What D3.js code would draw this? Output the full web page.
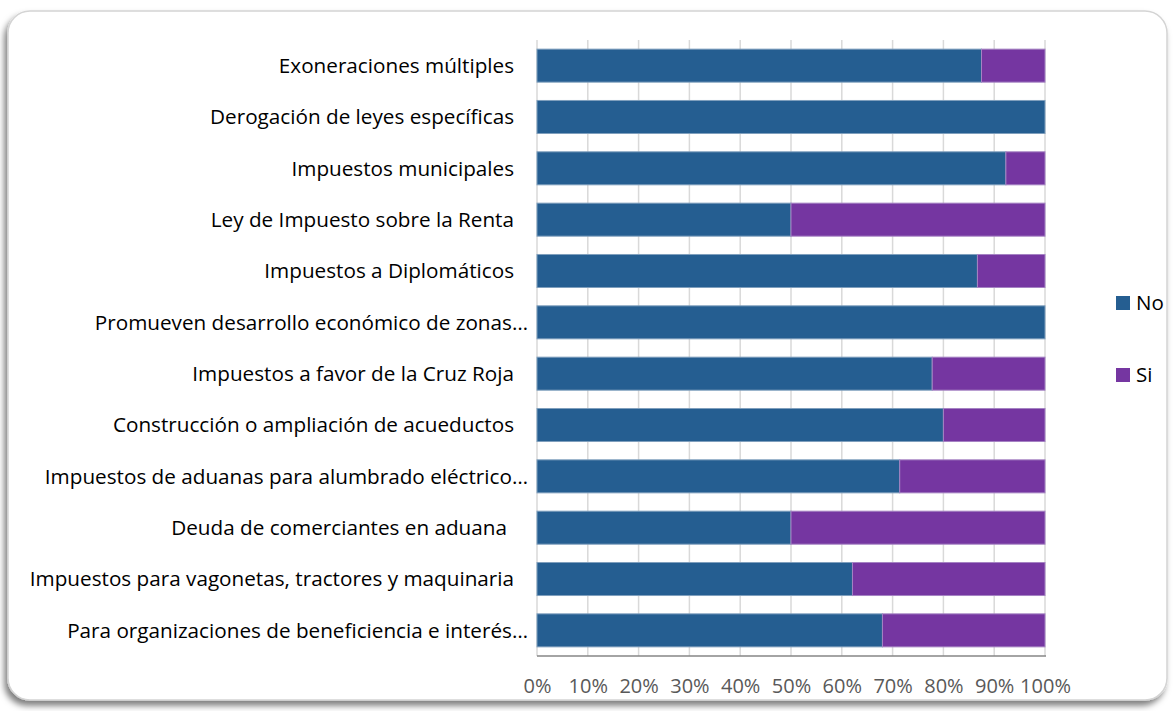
<!DOCTYPE html>
<html>
<head>
<meta charset="utf-8">
<script src="https://cdn.jsdelivr.net/npm/d3@7"></script>
<style>
  body { margin: 0; background: #fff; }
  text { font-family: "Open Sans", "Noto Sans", sans-serif; }
</style>
</head>
<body>
<svg width="1176" height="711"></svg>
<script>
// categories, top to bottom (trailing spaces as in the source labels)
var categories = [
  "Exoneraciones múltiples  ",
  "Derogación de leyes específicas  ",
  "Impuestos municipales  ",
  "Ley de Impuesto sobre la Renta  ",
  "Impuestos a Diplomáticos  ",
  "Promueven desarrollo económico de zonas…",
  "Impuestos a favor de la Cruz Roja  ",
  "Construcción o ampliación de acueductos  ",
  "Impuestos de aduanas para alumbrado eléctrico…",
  "Deuda de comerciantes en aduana   ",
  "Impuestos para vagonetas, tractores y maquinaria  ",
  "Para organizaciones de beneficiencia e interés…"
];
// share of "No" and "Si" per category
var noVals = [0.875, 1.00, 0.923, 0.50, 0.867, 1.00, 0.778, 0.80, 0.714, 0.50, 0.621, 0.68];
var siVals = [0.125, 0.00, 0.077, 0.50, 0.133, 0.00, 0.222, 0.20, 0.286, 0.50, 0.379, 0.32];
var seriesNames = ["No", "Si"];
var colors = ["#255e91", "#7536a1"];
var edgeColors = ["#7f9fbd", "#a583c3"];
var tickVals = [0, 0.1, 0.2, 0.3, 0.4, 0.5, 0.6, 0.7, 0.8, 0.9, 1.0];

var svg = d3.select("svg");

// frame with shadow
var defs = svg.append("defs");
var f = defs.append("filter").attr("id", "shadow")
  .attr("x", "-5%").attr("y", "-5%").attr("width", "110%").attr("height", "115%");
f.append("feDropShadow").attr("dx", -3).attr("dy", 5).attr("stdDeviation", 3)
  .attr("flood-color", "#000").attr("flood-opacity", 0.5);
svg.append("rect")
  .attr("x", 8).attr("y", 11).attr("width", 1159).attr("height", 689)
  .attr("rx", 22).attr("ry", 22)
  .attr("fill", "#fff").attr("stroke", "#d4d4d4").attr("stroke-width", 1.5)
  .attr("filter", "url(#shadow)");

var x = d3.scaleLinear().domain([0, 1]).range([537, 1045]);
var y = d3.scaleBand().domain(categories).range([40, 656])
  .paddingInner(0.357).paddingOuter(0.178);

// gridlines
svg.append("g").selectAll("line").data(tickVals).enter().append("line")
  .attr("x1", function(d) { return x(d); }).attr("x2", function(d) { return x(d); })
  .attr("y1", 40).attr("y2", 656)
  .attr("stroke", "#d9d9d9").attr("stroke-width", 1.5);

// stacked bars
var rows = categories.map(function(c, i) { return { cat: c, No: noVals[i], Si: siVals[i] }; });
var stack = d3.stack().keys(seriesNames)(rows);

svg.append("g").selectAll("g").data(stack).enter().append("g")
  .attr("fill", function(d, i) { return colors[i]; })
  .attr("stroke", function(d, i) { return edgeColors[i]; })
  .attr("stroke-width", 1)
  .selectAll("rect").data(function(d) { return d; }).enter().append("rect")
  .filter(function(d) { return d[1] - d[0] > 0; })
  .attr("x", function(d) { return x(d[0]); })
  .attr("width", function(d) { return x(d[1]) - x(d[0]); })
  .attr("y", function(d) { return y(d.data.cat); })
  .attr("height", y.bandwidth());

// bottom axis line
svg.append("line").attr("x1", 537).attr("x2", 1046).attr("y1", 656).attr("y2", 656)
  .attr("stroke", "#868686").attr("stroke-width", 1.5);

// x tick labels
var xAxis = d3.axisBottom(x).tickValues(tickVals).tickSize(0).tickPadding(0)
  .tickFormat(d3.format(".0%"));
var gx = svg.append("g").attr("transform", "translate(0,679)").call(xAxis);
gx.select(".domain").remove();
gx.selectAll("text").attr("font-family", "'Open Sans', sans-serif").attr("font-size", 20)
  .attr("fill", "#595959");

// category labels
svg.append("g").selectAll("text").data(categories).enter().append("text")
  .attr("x", function(d) {
    var m = d.match(/ +$/);
    return 528 - (m ? m[0].length * 7 : 0);
  })
  .attr("y", function(d) { return y(d) + y.bandwidth() / 2; })
  .attr("dy", "0.35em")
  .attr("text-anchor", "end")
  .attr("font-size", 20.7)
  .attr("fill", "#000")
  .text(function(d) { return d.trim(); });

// legend
var leg = svg.append("g").selectAll("g").data(seriesNames).enter().append("g")
  .attr("transform", function(d, i) { return "translate(1116," + (296 + i * 72) + ")"; });
leg.append("rect").attr("width", 14).attr("height", 14)
  .attr("fill", function(d, i) { return colors[i]; });
leg.append("text").attr("x", 20).attr("y", 7).attr("dy", "0.35em")
  .attr("font-size", 20.5).attr("fill", "#000")
  .text(function(d) { return d; });
</script>
</body>
</html>
